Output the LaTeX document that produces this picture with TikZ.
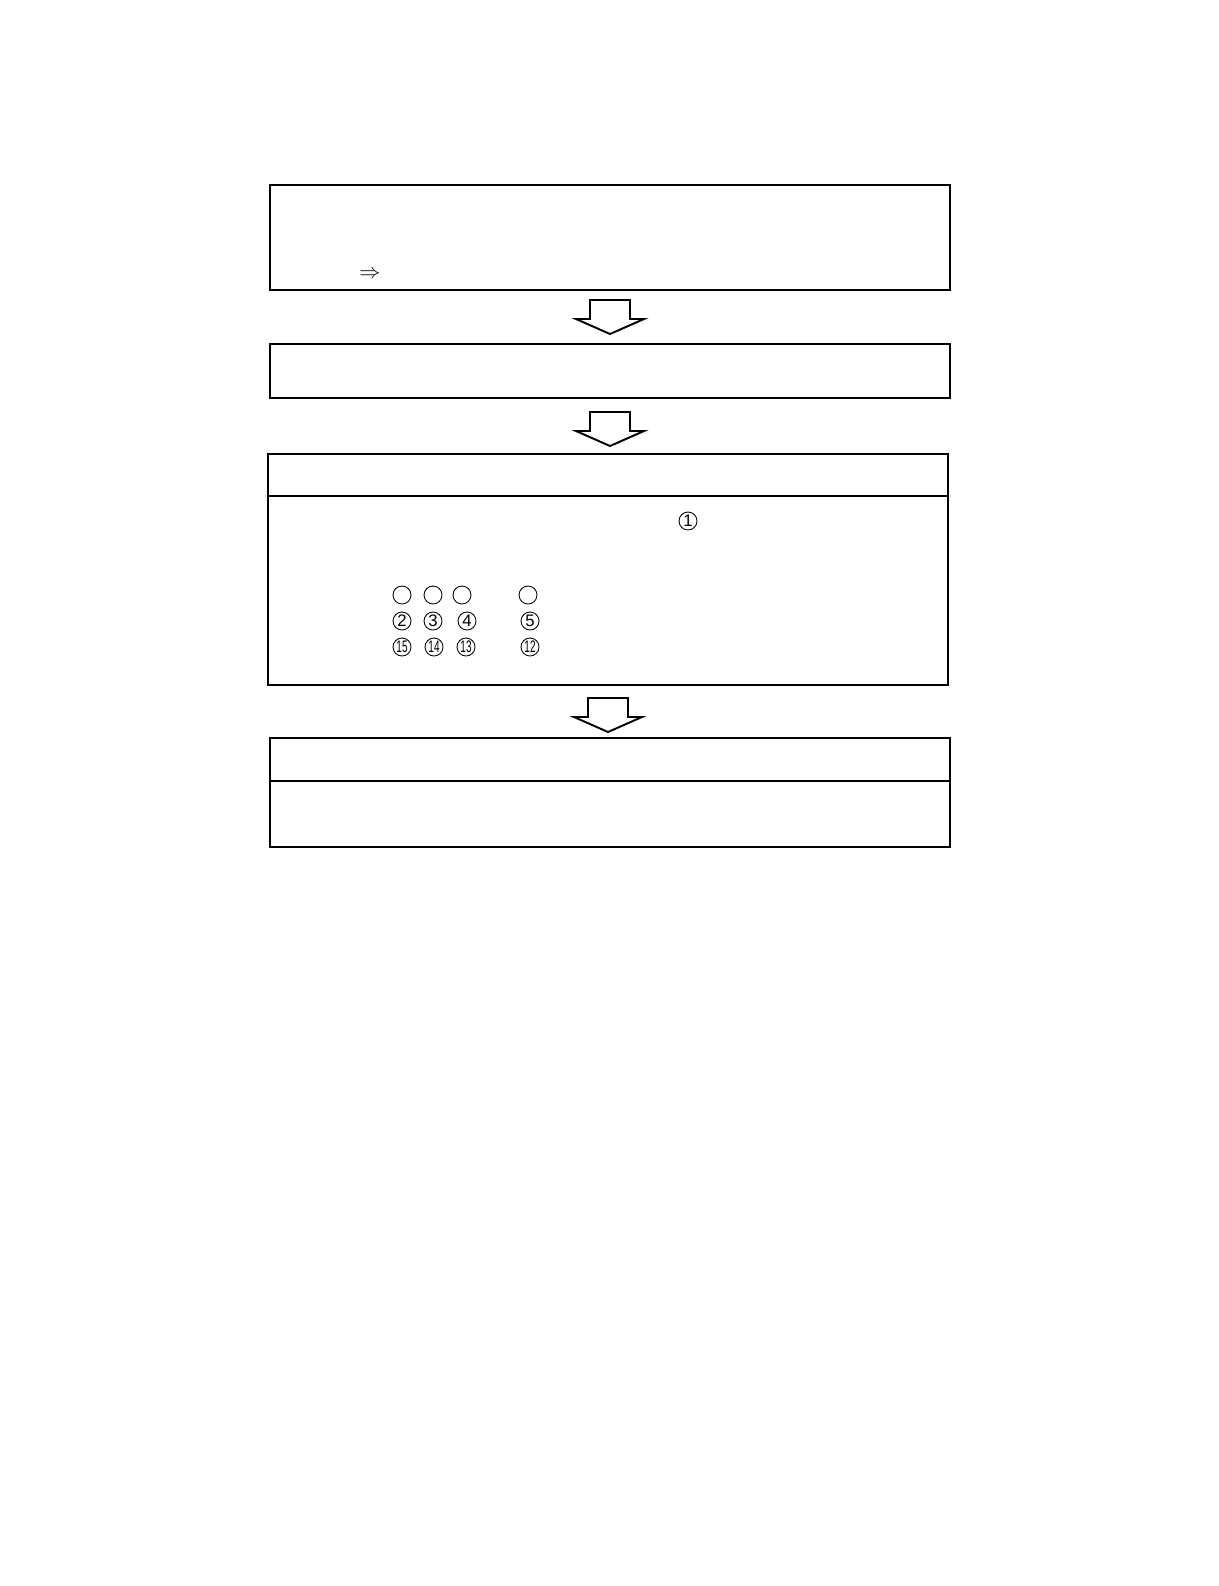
\documentclass[tikz,border=0pt]{standalone}
\usepackage{fontspec}
\setmainfont{Liberation Sans}
\usetikzlibrary{positioning}

\begin{document}
\begin{tikzpicture}[box/.style={draw,line width=1pt,rectangle,anchor=north west,inner sep=0pt,outer sep=0pt,minimum width=13.6cm},
  ring/.style={draw,circle,line width=0.5pt,minimum size=0.36cm,inner sep=0pt,font=\fontsize{9.5}{11}\selectfont},
  blockarrow/.style={draw,line width=1.1pt,line join=miter}]
\useasboundingbox (0,0) rectangle (24.36,-31.72);
\node[box, minimum height=2.1cm]  at (5.4,-3.7)  (b1) {};
\node[box, minimum height=1.08cm] at (5.4,-6.88) (b2) {};
\node[box, minimum height=0.84cm] at (5.36,-9.08) (b3head) {};
\node[box, minimum height=3.78cm, below=0cm of b3head] (b3body) {};
\node[box, minimum height=0.86cm] at (5.4,-14.76) (b4head) {};
\node[box, minimum height=1.32cm, below=0cm of b4head] (b4body) {};
% block arrows between the boxes
\foreach \a/\g in {b1/0.2, b2/0.28, b3body/0.26}
  \draw[blockarrow] ([shift={(-0.4,-\g)}]\a.south) -- ++(0,-0.38) -- ++(-0.28,0)
    -- ++(0.68,-0.3) -- ++(0.68,0.3) -- ++(-0.28,0) -- ++(0,0.38) -- cycle;
\node (implies) at (7.4,-5.5) {\large$\Rightarrow$};
\node[ring] (c1) at (13.76,-10.42) {1};
\foreach \x [count=\i] in {8.04,8.66,9.24,10.56}
  \node[ring] (e\i) at (\x,-11.9) {};
\foreach \x/\n in {8.04/2,8.66/3,9.34/4,10.6/5}
  \node[ring] (c\n) at (\x,-12.42) {\n};
\foreach \x/\n in {8.04/15,8.68/14,9.32/13,10.6/12}
  \node[ring] (c\n) at (\x,-12.94) {\scalebox{0.6}[1]{\n}};
\end{tikzpicture}
\end{document}
